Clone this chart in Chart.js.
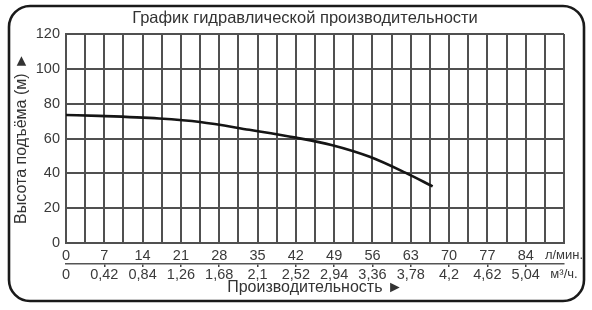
<!DOCTYPE html>
<html>
<head>
<meta charset="utf-8">
<script src="https://cdn.jsdelivr.net/npm/chart.js@4.4.1/dist/chart.umd.min.js"></script>
<style>
  html, body { margin: 0; padding: 0; background: #fff; }
  #wrap { width: 592px; height: 310px; position: relative; }
</style>
</head>
<body>
<div id="wrap"><canvas id="c" width="592" height="310"></canvas></div>
<script>
// ---- data ----
const chartTitle = 'График гидравлической производительности';
const yTitle = 'Высота подъёма (м) ►';
const xTitle = 'Производительность ►';
const flowLpm = [0, 6, 17, 24.5, 33.5, 42, 48.5, 55.5, 62, 67];          // л/мин
const headM   = [73.5, 73, 71.5, 69.5, 65, 60.5, 56.3, 49.5, 40.4, 32.5]; // м
const lpmTicks = [0, 7, 14, 21, 28, 35, 42, 49, 56, 63, 70, 77, 84];
const m3hTicks = ['0', '0,42', '0,84', '1,26', '1,68', '2,1', '2,52', '2,94', '3,36', '3,78', '4,2', '4,62', '5,04'];
const yTickLabels = [0, 20, 40, 60, 80, 100, 120];
const unitLpm = 'л/мин.';
const unitM3h = 'м³/ч.';
const xMax = 91, xGridStep = 3.5, yMax = 120, yGridStep = 10;

Chart.defaults.font.family = '"Liberation Sans", Arial, sans-serif';
Chart.defaults.color = '#3a3a3a';

const gridColor = '#505050';
const tickFont = { size: 14.5, lineHeight: 1 };
const unitFont = { size: 13, lineHeight: 1 };

function lpmIndex(v) {
  for (let i = 0; i < lpmTicks.length; i++) if (Math.abs(lpmTicks[i] - v) < 1e-6) return i;
  return -1;
}

const frame = {
  id: 'frame',
  afterLayout(chart) {
    // centre the title over the drawing like the original
    if (chart.titleBlock) {
      chart.titleBlock.left = 46;
      chart.titleBlock.right = 564;
    }
  },
  beforeDraw(chart) {
    const ctx = chart.ctx;
    ctx.save();
    ctx.fillStyle = '#fff';
    ctx.fillRect(0, 0, chart.width, chart.height);
    ctx.restore();
  },
  afterDraw(chart) {
    const ctx = chart.ctx;
    ctx.save();
    ctx.strokeStyle = '#1a1a1a';
    ctx.lineWidth = 2.6;
    ctx.beginPath();
    ctx.roundRect(9, 6, 575, 295, 21);
    ctx.stroke();
    ctx.restore();
  }
};

function gridTicks(scale) {
  const t = [];
  for (let v = 0; v <= xMax + 1e-9; v += xGridStep) t.push({ value: v });
  scale.ticks = t;
}

new Chart(document.getElementById('c'), {
  type: 'line',
  data: {
    datasets: [{
      data: flowLpm.map((f, i) => ({ x: f, y: headM[i] })),
      borderColor: '#151515',
      borderWidth: 2.6,
      pointRadius: 0,
      tension: 0.4,
      cubicInterpolationMode: 'monotone',
      fill: false
    }]
  },
  options: {
    responsive: false,
    animation: false,
    layout: { padding: { left: 10, right: 28, top: 3, bottom: 14.5 } },
    plugins: {
      legend: { display: false },
      tooltip: { enabled: false },
      title: {
        display: true,
        text: chartTitle,
        fullSize: false,
        color: '#333',
        font: { size: 16.5, weight: 'normal', lineHeight: 1 },
        padding: { top: 7, bottom: 7.5 }
      }
    },
    scales: {
      x: {
        type: 'linear',
        position: 'bottom',
        min: 0, max: xMax,
        afterBuildTicks: gridTicks,
        afterFit(scale) { scale.height = 21; },
        ticks: {
          autoSkip: false, maxRotation: 0, padding: 6,
          font: ctx => (ctx.tick && Math.abs(ctx.tick.value - xMax) < 1e-6) ? unitFont : tickFont,
          callback(v) {
            if (Math.abs(v - xMax) < 1e-6) return unitLpm;
            const i = lpmIndex(v);
            return i >= 0 ? String(lpmTicks[i]) : '';
          }
        },
        grid: { color: gridColor, lineWidth: 2, drawTicks: false },
        border: { color: gridColor, width: 2 }
      },
      x2: {
        type: 'linear',
        position: 'bottom',
        min: 0, max: xMax,
        afterBuildTicks: gridTicks,
        afterFit(scale) { scale.height = 31.5; },
        ticks: {
          autoSkip: false, maxRotation: 0, padding: 0.5,
          font: ctx => (ctx.tick && Math.abs(ctx.tick.value - xMax) < 1e-6) ? unitFont : tickFont,
          callback(v) {
            if (Math.abs(v - xMax) < 1e-6) return unitM3h;
            const i = lpmIndex(v);
            return i >= 0 ? m3hTicks[i] : '';
          }
        },
        grid: {
          drawOnChartArea: false, drawTicks: true, tickLength: 3, lineWidth: 1.5,
          color: ctx => (ctx.tick && lpmIndex(ctx.tick.value) > 0) ? '#444' : 'rgba(0,0,0,0)'
        },
        border: { color: '#555', width: 1.5 },
        title: {
          display: true, text: xTitle, color: '#333',
          font: { size: 16, lineHeight: 1 },
          padding: { top: 0, bottom: 0 }
        }
      },
      y: {
        min: 0, max: yMax,
        afterFit(scale) { scale.width = 56; },
        ticks: {
          stepSize: yGridStep, padding: 6, font: tickFont,
          callback(v) { return yTickLabels.includes(v) ? String(v) : ''; }
        },
        grid: { color: gridColor, lineWidth: 2, drawTicks: false },
        border: { color: gridColor, width: 2 },
        title: {
          display: true, text: yTitle, color: '#333',
          font: { size: 16, lineHeight: 1 },
          padding: { top: 4, bottom: 7 }
        }
      }
    }
  },
  plugins: [frame]
});
</script>
</body>
</html>
